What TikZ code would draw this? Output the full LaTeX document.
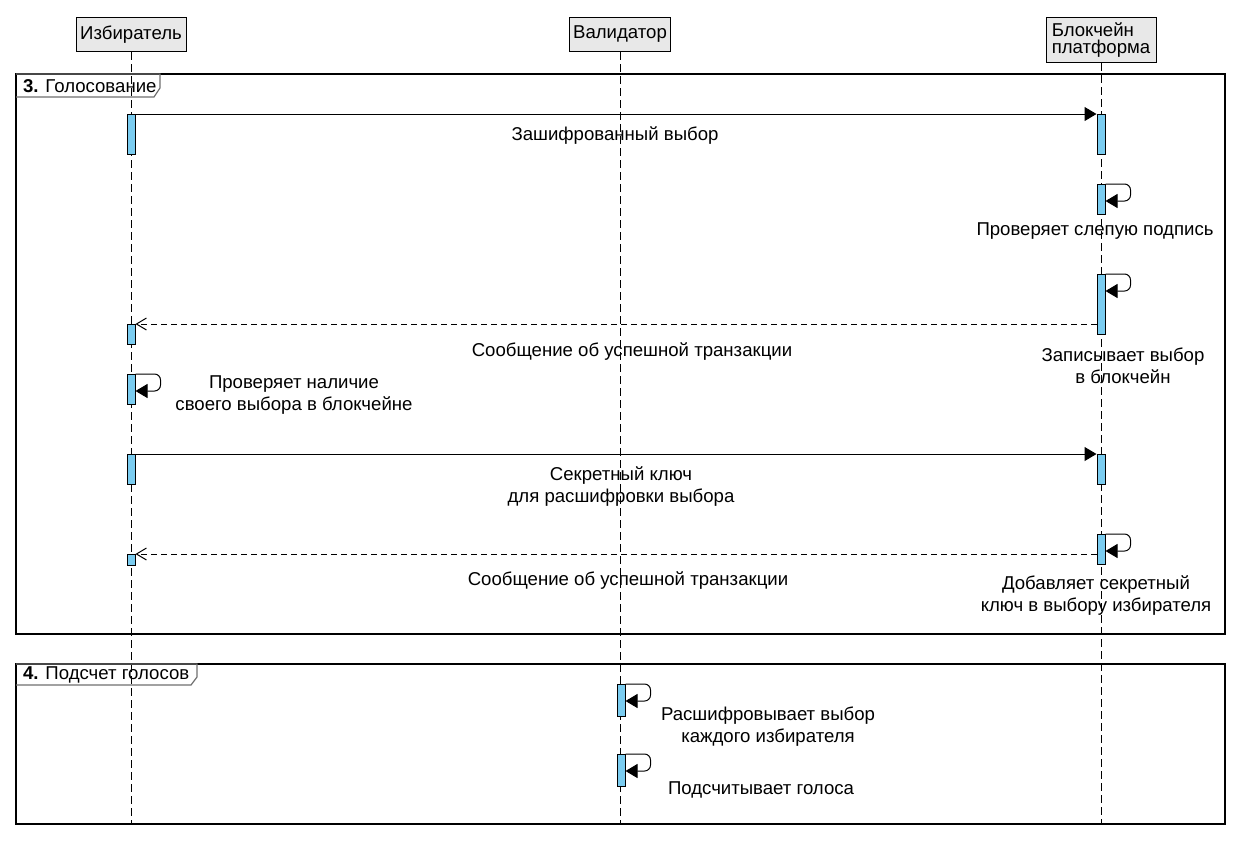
\documentclass[tikz,border=0pt]{standalone}
\usepackage{fontspec}
\setmainfont{Liberation Sans}
\usetikzlibrary{arrows.meta}
\definecolor{actfill}{RGB}{122,204,240}
\definecolor{headfill}{RGB}{232,232,232}
\definecolor{taggray}{RGB}{110,110,110}

\begin{document}
\begin{tikzpicture}[x=0.5pt,y=0.5pt,yscale=-1,
  every node/.style={font=\fontsize{9.3}{11}\selectfont},
  header/.style={draw, fill=headfill, line width=0.5pt, inner sep=2pt, align=left, anchor=north, font=\fontsize{9.3}{8.3}\selectfont},
  actbar/.style={draw, fill=actfill, line width=0.5pt, minimum width=4pt, inner sep=0pt, anchor=north},
  lifeline/.style={line width=0.5pt, dash pattern=on 4pt off 2pt},
  call/.style={line width=0.5pt, -{Triangle[length=6pt,width=7pt]}},
  reply/.style={line width=0.5pt, dash pattern=on 3pt off 2pt, -{Straight Barb[length=5pt,width=6pt]}},
  selfcall/.style={line width=0.5pt, rounded corners=3pt, -{Triangle[length=6pt,width=7pt]}},
  frame/.style={line width=0.55pt},
  tag/.style={draw=taggray, line width=0.6pt},
  lbl/.style={align=center}]
\useasboundingbox (0,0) rectangle (1240,847);

% participants
\node[header, minimum width=55pt, minimum height=17pt] (voter) at (131,17) {Избиратель};
\node[header, minimum width=50pt, minimum height=17pt] (valid) at (620,17) {Валидатор};
\node[header, minimum width=55pt, minimum height=22.5pt] (chain) at (1101,17) {Блокчейн\\платформа};
\coordinate (lifeend) at (0,824);

\draw[lifeline] (voter.south) -- (voter.south |- lifeend);
\draw[lifeline] (valid.south) -- (valid.south |- lifeend);
\draw[lifeline] (chain.south) -- (chain.south |- lifeend);

% frames
\draw[frame] (16,74) rectangle (1225,634);
\draw[tag] (16,74) -- (160,74) -- (160,88) -- (154,97) -- (16,97);
\node[anchor=west] (tag3) at (16,86) {\textbf{3.} Голосование};

\draw[frame] (16,664) rectangle (1225,824);
\draw[tag] (16,664) -- (197,664) -- (197,677) -- (191,685) -- (16,685);
\node[anchor=west] (tag4) at (16,675) {\textbf{4.} Подсчет голосов};

% activation bars
\node[actbar, minimum height=20pt] (v1) at (131,114) {};
\node[actbar, minimum height=10pt] (v2) at (131,324) {};
\node[actbar, minimum height=15pt] (v3) at (131,374) {};
\node[actbar, minimum height=15pt] (v4) at (131,454) {};
\node[actbar, minimum height=5.5pt] (v5) at (131,554) {};

\node[actbar, minimum height=20pt] (c1) at (1101,114) {};
\node[actbar, minimum height=15pt] (c2) at (1101,184) {};
\node[actbar, minimum height=30pt] (c3) at (1101,274) {};
\node[actbar, minimum height=15pt] (c4) at (1101,454) {};
\node[actbar, minimum height=15pt] (c5) at (1101,534) {};

\node[actbar, minimum height=16pt] (a1) at (621,684) {};
\node[actbar, minimum height=16pt] (a2) at (621,754) {};

% messages
\draw[call] (v1.north east) -- (c1.north west);
\node[lbl] (m1) at (615,136) {Зашифрованный выбор};

\draw[selfcall] (c2.north east) -- ++(25,0) -- ++(0,17) -- ++(-25,0);
\node[lbl] (m2) at (1095,231) {Проверяет слепую подпись};

\draw[selfcall] (c3.north east) -- ++(25,0) -- ++(0,17) -- ++(-25,0);
\node[lbl] (m3) at (1123,366) {Записывает выбор\\в блокчейн};

\draw[reply] (c3.west |- v2.north) -- (v2.north east);
\node[lbl] (m4) at (632,352) {Сообщение об успешной транзакции};

\draw[selfcall] (v3.north east) -- ++(25,0) -- ++(0,17) -- ++(-25,0);
\node[lbl] (m5) at (294,395) {Проверяет наличие\\своего выбора в блокчейне};

\draw[call] (v4.north east) -- (c4.north west);
\node[lbl] (m6) at (621,487) {Секретный ключ\\для расшифровки выбора};

\draw[selfcall] (c5.north east) -- ++(25,0) -- ++(0,17) -- ++(-25,0);
\draw[reply] (c5.west |- v5.north) -- (v5.north east);
\node[lbl] (m7) at (628,581) {Сообщение об успешной транзакции};
\node[lbl] (m8) at (1096,596) {Добавляет секретный\\ключ в выбору избирателя};

\draw[selfcall] (a1.north east) -- ++(25,0) -- ++(0,17) -- ++(-25,0);
\node[lbl] (m9) at (768,727) {Расшифровывает выбор\\каждого избирателя};

\draw[selfcall] (a2.north east) -- ++(25,0) -- ++(0,17) -- ++(-25,0);
\node[lbl] (m10) at (761,790) {Подсчитывает голоса};

\end{tikzpicture}
\end{document}
